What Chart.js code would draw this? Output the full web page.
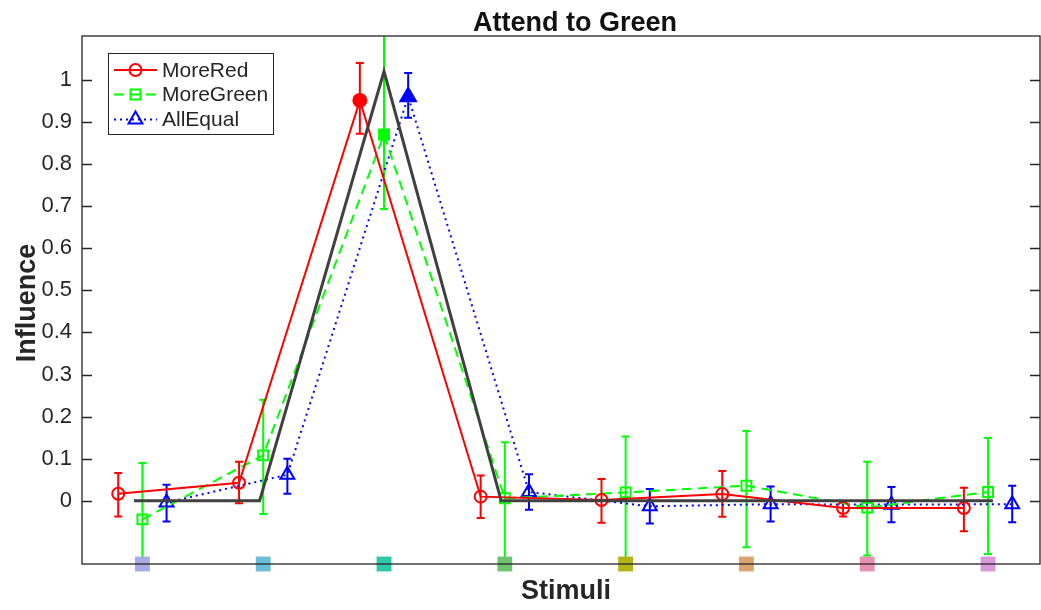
<!DOCTYPE html>
<html>
<head>
<meta charset="utf-8">
<script src="https://cdn.jsdelivr.net/npm/chart.js@4.4.1/dist/chart.umd.min.js"></script>
<style>
  body { margin: 0; background: #fff; }
  canvas { display: block; }
</style>
</head>
<body>
<canvas id="chart" width="1041" height="610"></canvas>
<script>
// stimuli 1..8, three conditions plotted side by side
const stimuli = [1, 2, 3, 4, 5, 6, 7, 8];
const stimColors = ['#aaaae6', '#6bbfdb', '#2ec8a8', '#6dc46d', '#b3b31a', '#dba36f', '#e891b3', '#d998d9'];

const redVals  = [0.017, 0.043, 0.951, 0.010, 0.002, 0.016, -0.017, -0.017];
const redLow   = [-0.037, -0.006, 0.872, -0.041, -0.052, -0.038, -0.037, -0.072];
const redHigh  = [0.066, 0.093, 1.040, 0.060, 0.052, 0.071, -0.004, 0.031];

const greenVals = [-0.044, 0.108, 0.870, 0.006, 0.020, 0.036, -0.016, 0.021];
const greenLow  = [-0.180, -0.031, 0.693, -0.170, -0.170, -0.110, -0.130, -0.126];
const greenHigh = [0.090, 0.240, 1.150, 0.139, 0.153, 0.166, 0.093, 0.149];

const blueVals = [-0.004, 0.062, 0.960, 0.021, -0.013, -0.008, -0.009, -0.008];
const blueLow  = [-0.049, 0.017, 0.910, -0.021, -0.054, -0.049, -0.051, -0.051];
const blueHigh = [0.038, 0.100, 1.016, 0.063, 0.028, 0.034, 0.033, 0.036];

// the ideal (black) profile
const idealX = [0.93, 1.97, 3, 3.97, 8.04];
const idealY = [0, 0, 1.02, 0, 0];

const yTickValues = [0, 0.1, 0.2, 0.3, 0.4, 0.5, 0.6, 0.7, 0.8, 0.9, 1];
const yTickLabels = ['0', '0.1', '0.2', '0.3', '0.4', '0.5', '0.6', '0.7', '0.8', '0.9', '1'];
const Y_MIN = -0.15, Y_MAX = 1.104;
const X_MIN = 0.5, X_MAX = 8.43;

const seriesNames = ['MoreRed', 'MoreGreen', 'AllEqual'];
const seriesOffset = [-0.2, 0, 0.2];
const highlighted = 2; // the attended stimulus gets filled markers

const FONT = '"Liberation Sans", Arial, Helvetica, sans-serif';
const AXIS_COLOR = '#262626';

function makeSeries(idx, vals, low, high, color, style, radius, dash) {
  return {
    label: seriesNames[idx],
    data: stimuli.map((s, i) => ({ x: s + seriesOffset[idx], y: vals[i] })),
    errLow: low,
    errHigh: high,
    showLine: true,
    borderColor: color,
    borderWidth: 2,
    borderDash: dash,
    pointStyle: style,
    pointRadius: radius,
    pointBorderWidth: 2,
    pointBorderColor: color,
    pointBackgroundColor: stimuli.map((s, i) => i === highlighted ? color : 'rgba(0,0,0,0)'),
    order: 3 + idx
  };
}

const redSet = makeSeries(0, redVals, redLow, redHigh, '#ff0000', 'circle', 6, []);
const greenSet = makeSeries(1, greenVals, greenLow, greenHigh, '#00ff00', 'rect', 7, [10, 6]);
const blueSet = makeSeries(2, blueVals, blueLow, blueHigh, '#0000ff', 'triangle', 8, [2, 4]);
redSet.pointRadius = stimuli.map((s, i) => i === highlighted ? 6.5 : 6);
blueSet.pointRadius = stimuli.map((s, i) => i === highlighted ? 9 : 8);

const idealSet = {
  label: 'ideal',
  data: idealX.map((x, i) => ({ x: x, y: idealY[i] })),
  showLine: true,
  borderColor: '#404040',
  borderWidth: 3,
  pointRadius: 0,
  order: 2
};

const squareSet = {
  label: 'stim',
  data: stimuli.map(s => ({ x: s, y: Y_MIN })),
  showLine: false,
  pointStyle: 'rect',
  pointRadius: 10.5,
  pointBorderWidth: 0,
  pointBackgroundColor: stimColors,
  pointBorderColor: stimColors,
  clip: false,
  order: 0
};

function drawMarker(ctx, style, x, y, r, color) {
  ctx.save();
  ctx.strokeStyle = color;
  ctx.lineWidth = 2;
  ctx.setLineDash([]);
  ctx.beginPath();
  if (style === 'circle') {
    ctx.arc(x, y, r, 0, Math.PI * 2);
  } else if (style === 'rect') {
    const s = r * Math.SQRT1_2;
    ctx.rect(x - s, y - s, 2 * s, 2 * s);
  } else {
    const a = 2 * Math.PI / 3;
    ctx.moveTo(x, y - r);
    ctx.lineTo(x + Math.sin(a) * r, y - Math.cos(a) * r);
    ctx.lineTo(x + Math.sin(2 * a) * r, y - Math.cos(2 * a) * r);
    ctx.closePath();
  }
  ctx.stroke();
  ctx.restore();
}

const matlabLook = {
  id: 'matlabLook',
  beforeDatasetsDraw(chart) {
    const ctx = chart.ctx, a = chart.chartArea;
    const xs = chart.scales.x, ys = chart.scales.y;
    ctx.save();
    ctx.beginPath();
    ctx.rect(a.left, a.top, a.right - a.left, a.bottom - a.top);
    ctx.clip();
    chart.data.datasets.forEach(ds => {
      if (!ds.errLow) return;
      ctx.strokeStyle = ds.borderColor;
      ctx.lineWidth = 2;
      ds.data.forEach((p, i) => {
        const px = xs.getPixelForValue(p.x);
        const lo = ys.getPixelForValue(ds.errLow[i]);
        const hi = ys.getPixelForValue(ds.errHigh[i]);
        ctx.beginPath();
        ctx.moveTo(px, lo); ctx.lineTo(px, hi);
        ctx.moveTo(px - 4, lo); ctx.lineTo(px + 4, lo);
        ctx.moveTo(px - 4, hi); ctx.lineTo(px + 4, hi);
        ctx.stroke();
      });
    });
    ctx.restore();
  },
  afterDraw(chart) {
    const ctx = chart.ctx, a = chart.chartArea, ys = chart.scales.y;
    ctx.save();
    // axes box + inward ticks
    ctx.strokeStyle = AXIS_COLOR;
    ctx.lineWidth = 1.3;
    ctx.strokeRect(a.left, a.top, a.right - a.left, a.bottom - a.top);
    ctx.beginPath();
    yTickValues.forEach(v => {
      const py = Math.round(ys.getPixelForValue(v)) + 0.5;
      ctx.moveTo(a.left, py); ctx.lineTo(a.left + 10, py);
      ctx.moveTo(a.right, py); ctx.lineTo(a.right - 10, py);
    });
    ctx.stroke();

    // titles
    ctx.fillStyle = '#111';
    ctx.textAlign = 'center';
    ctx.textBaseline = 'alphabetic';
    ctx.font = 'bold 27px ' + FONT;
    ctx.fillText('Attend to Green', 575, 31);
    ctx.fillStyle = AXIS_COLOR;
    ctx.fillText('Stimuli', 566, 599);
    ctx.save();
    ctx.translate(28, 303);
    ctx.rotate(-Math.PI / 2);
    ctx.textBaseline = 'middle';
    ctx.fillText('Influence', 0, 0);
    ctx.restore();

    // legend
    const lx = 108, ly = 53, lw = 165, lh = 81;
    ctx.fillStyle = '#fff';
    ctx.fillRect(lx, ly, lw, lh);
    ctx.strokeStyle = AXIS_COLOR;
    ctx.lineWidth = 1;
    ctx.strokeRect(lx + 0.5, ly + 0.5, lw, lh);
    const sets = [redSet, greenSet, blueSet];
    const rowY = [70, 94.5, 119.5];
    const radii = [6, 7, 8];
    sets.forEach((ds, i) => {
      const y = rowY[i];
      ctx.save();
      ctx.strokeStyle = ds.borderColor;
      ctx.lineWidth = 2;
      ctx.setLineDash(ds.borderDash);
      ctx.beginPath();
      ctx.moveTo(114, y); ctx.lineTo(157, y);
      ctx.stroke();
      ctx.restore();
      drawMarker(ctx, ds.pointStyle, 135.5, y, radii[i], ds.borderColor);
      ctx.fillStyle = AXIS_COLOR;
      ctx.font = '21px ' + FONT;
      ctx.textAlign = 'left';
      ctx.textBaseline = 'middle';
      ctx.fillText(ds.label, 162, y + 1);
    });
    ctx.restore();
  }
};

new Chart(document.getElementById('chart'), {
  type: 'scatter',
  data: { datasets: [squareSet, idealSet, redSet, greenSet, blueSet] },
  options: {
    responsive: false,
    animation: false,
    layout: { autoPadding: false, padding: { left: 0, right: 1, top: 36, bottom: 46 } },
    plugins: { legend: { display: false }, tooltip: { enabled: false }, title: { display: false } },
    scales: {
      x: { type: 'linear', min: X_MIN, max: X_MAX, display: false },
      y: {
        type: 'linear',
        min: Y_MIN,
        max: Y_MAX,
        afterBuildTicks: scale => { scale.ticks = yTickValues.map(v => ({ value: v })); },
        afterFit: scale => { scale.width = 82; },
        grid: { display: false, drawTicks: false },
        border: { display: false },
        ticks: {
          autoSkip: false,
          padding: 10,
          color: AXIS_COLOR,
          font: { family: FONT, size: 22 },
          callback: (v, i) => yTickLabels[i]
        }
      }
    }
  },
  plugins: [matlabLook]
});
</script>
</body>
</html>
